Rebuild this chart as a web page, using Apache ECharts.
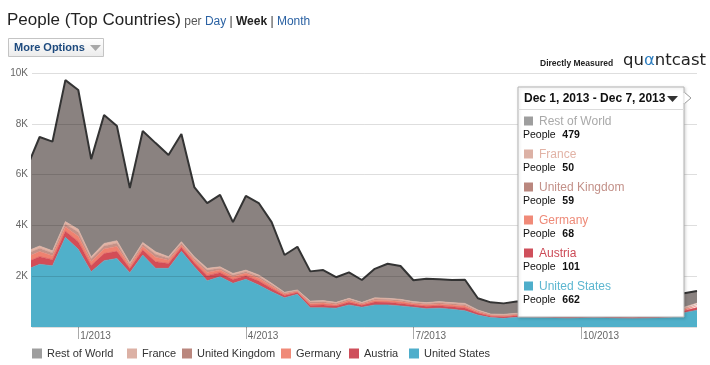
<!DOCTYPE html>
<html>
<head>
<meta charset="utf-8">
<script src="https://cdn.jsdelivr.net/npm/echarts@6/dist/echarts.min.js"></script>
<style>
html,body{margin:0;padding:0;background:#fff;}
#c{width:710px;height:365px;}
</style>
</head>
<body>
<div id="c"></div>
<script>
// ---- data (weekly, week 0 = week of Dec 2, 2012; last = week of Dec 1, 2013) ----
var seriesNames = ['Rest of World','France','United Kingdom','Germany','Austria','United States'];
var tickWeeks = [4, 17, 30, 43];
var tickLabels = ['1/2013','4/2013','7/2013','10/2013'];
var yTicks = [0, 2000, 4000, 6000, 8000, 10000];

var unitedStates = [2260,2470,2410,3530,3060,2180,2610,2700,2140,2830,
  2310,2310,2980,2370,1820,1980,1720,1880,1650,1390,
  1150,1290,760,760,740,870,780,870,870,830,
  780,720,740,700,640,470,370,340,380,
  370,360,350,340,350,360,350,340,330,340,350,370,
  560,662];
var austria = [290,300,240,240,300,240,280,280,160,200,
  260,190,150,160,200,160,150,140,160,130,
  90,70,100,110,90,100,75,110,100,100,
  85,95,100,100,110,80,55,60,60,
  60,60,58,56,60,62,60,58,56,60,62,66,
  80,101];
var germany = [200,200,160,170,210,160,180,190,105,135,
  175,125,100,110,130,105,105,95,110,90,
  60,45,70,75,60,70,50,75,70,70,
  60,65,70,70,75,55,38,42,42,
  42,40,40,38,40,42,40,38,38,40,42,45,
  55,68];
var unitedKingdom = [130,130,105,115,160,105,120,125,70,90,
  120,85,70,70,90,70,70,65,70,60,
  40,30,50,50,45,50,35,50,50,50,
  40,45,48,48,55,35,25,30,30,
  32,32,30,30,32,34,32,30,30,32,34,36,
  45,59];
var france = [100,90,85,95,120,85,100,105,55,75,
  95,60,60,60,70,55,65,60,60,50,
  30,25,40,45,35,40,30,45,40,40,
  35,35,42,42,50,30,22,28,28,
  28,27,26,26,28,28,27,26,26,28,30,32,
  40,50];
var restOfWorld = [3280,4290,4300,5570,5480,3840,5060,4510,2940,4390,
  4280,4000,4240,2740,2570,2830,2020,2920,2830,2410,
  1465,1700,1170,1200,990,1020,880,1140,1360,1310,
  840,940,880,890,930,460,460,430,460,
  470,480,460,450,470,490,470,450,440,460,480,500,
  550,479];

// week start dates (categories)
var DAY = 86400000, WEEK = 7 * DAY;
var firstWeek = Date.UTC(2012, 11, 2);
var weeks = unitedStates.map(function (_, i) { return firstWeek + i * WEEK; });
var lastIdx = unitedStates.length - 1;
var startOffset = 0.41; // visible window begins part-way into the first week

// ---- styles ----
var areaColors = {
  'Rest of World': '#8a8280', 'France': '#e3b3a4', 'United Kingdom': '#c49187',
  'Germany': '#ef8270', 'Austria': '#d34d57', 'United States': '#50b0ca'
};
var legendColors = {
  'Rest of World': '#9e9e9e', 'France': '#dcb1a5', 'United Kingdom': '#ba877e',
  'Germany': '#f08a78', 'Austria': '#cf4f5b', 'United States': '#4eaecb'
};
var tipNameColors = {
  'Rest of World': '#a9a9a9', 'France': '#e2b3a6', 'United Kingdom': '#c39189',
  'Germany': '#ee8a78', 'Austria': '#cc4a56', 'United States': '#5cb6d0'
};
var valuesByName = {
  'Rest of World': restOfWorld, 'France': france, 'United Kingdom': unitedKingdom,
  'Germany': germany, 'Austria': austria, 'United States': unitedStates
};
var FONT = 'Liberation Sans, Arial, sans-serif';

var stackOrder = ['United States','Austria','Germany','United Kingdom','France','Rest of World'];
var series = stackOrder.map(function (name) {
  var isTop = name === 'Rest of World';
  return {
    type: 'line', name: name, stack: 'total', symbol: 'none', showSymbol: false, smooth: false,
    xAxisIndex: 0,
    data: valuesByName[name].map(function (v, i) { return [weeks[i], v]; }),
    itemStyle: { color: areaColors[name] },
    lineStyle: isTop ? { color: '#333', width: 2 } : { width: 0.6, color: areaColors[name] },
    areaStyle: { color: areaColors[name], opacity: 1 },
    emphasis: { disabled: true },
    z: 2
  };
});

// legends (one per item, positioned like the reference)
var legendLeft = [32, 127, 182, 281, 349, 409];
var legends = seriesNames.map(function (name, k) {
  return {
    left: legendLeft[k], top: 348, padding: 0, itemWidth: 10, itemHeight: 10, itemGap: 0,
    icon: 'rect', selectedMode: false,
    data: [{ name: name, itemStyle: { color: legendColors[name] } }],
    textStyle: { fontFamily: FONT, fontSize: 11, color: '#333' }
  };
});

// tooltip box (graphic) — values from last week of each series
function fmtDate(t) {
  var m = ['Jan','Feb','Mar','Apr','May','Jun','Jul','Aug','Sep','Oct','Nov','Dec'];
  var d = new Date(t);
  return m[d.getUTCMonth()] + ' ' + d.getUTCDate() + ', ' + d.getUTCFullYear();
}
var header = fmtDate(weeks[lastIdx]) + ' - ' + fmtDate(weeks[lastIdx] + 6 * DAY);
var tipX = 518, tipY = 87, tipW = 166, tipH = 230, TZ = 100;
var tipChildren = [
  { type: 'rect', z: TZ, shape: { x: tipX, y: tipY, width: tipW, height: tipH },
    style: { fill: '#fff', stroke: '#b4b4b4', lineWidth: 1, shadowBlur: 3, shadowColor: 'rgba(0,0,0,0.15)', shadowOffsetX: 1, shadowOffsetY: 1 } },
  { type: 'polygon', z: TZ, shape: { points: [[tipX + tipW, 92], [tipX + tipW + 7, 98], [tipX + tipW, 104]] },
    style: { fill: '#fff', stroke: '#9a9a9a', lineWidth: 1 } },
  { type: 'line', z: TZ + 1, shape: { x1: tipX + tipW, y1: 92.5, x2: tipX + tipW, y2: 103.5 }, style: { stroke: '#fff', lineWidth: 1.5 } },
  { type: 'text', z: TZ + 1, x: 524, y: 99, style: { text: header, font: 'bold 12px ' + FONT, fill: '#111', verticalAlign: 'middle' } },
  { type: 'polygon', z: TZ + 1, shape: { points: [[667, 96], [678, 96], [672.5, 102]] }, style: { fill: '#333' } },
  { type: 'line', z: TZ + 1, shape: { x1: tipX, y1: 109.5, x2: tipX + tipW, y2: 109.5 }, style: { stroke: '#dcdcdc', lineWidth: 1 } }
];
seriesNames.forEach(function (name, k) {
  var y0 = 116.5 + 33 * k;
  tipChildren.push(
    { type: 'rect', z: TZ + 1, shape: { x: 524, y: y0, width: 9, height: 9 }, style: { fill: legendColors[name] } },
    { type: 'text', z: TZ + 1, x: 539, y: y0 + 5, style: { text: name, font: '12px ' + FONT, fill: tipNameColors[name], verticalAlign: 'middle' } },
    { type: 'text', z: TZ + 1, x: 523, y: y0 + 18.5, style: {
        text: '{p|People}  {v|' + valuesByName[name][lastIdx] + '}', verticalAlign: 'middle',
        rich: { p: { font: '10.5px ' + FONT, fill: '#111' }, v: { font: 'bold 10.5px ' + FONT, fill: '#111' } } } }
  );
});

var graphics = [
  // title line
  { type: 'text', x: 7, y: 20, style: {
      text: '{t|People (Top Countries)} {p|per} {l|Day}{s| | }{w|Week}{s| | }{l|Month}', verticalAlign: 'middle',
      rich: {
        t: { font: '17px ' + FONT, fill: '#222' },
        p: { font: '12px ' + FONT, fill: '#555', padding: [3, 0, 0, 0] },
        l: { font: '12px ' + FONT, fill: '#2b62a3', padding: [3, 0, 0, 0] },
        w: { font: 'bold 12px ' + FONT, fill: '#222', padding: [3, 0, 0, 0] },
        s: { font: '12px ' + FONT, fill: '#333', padding: [3, 0, 0, 0] }
      } } },
  // More Options button
  { type: 'rect', shape: { x: 8.5, y: 38.5, width: 95, height: 18 },
    style: { fill: { type: 'linear', x: 0, y: 0, x2: 0, y2: 1, colorStops: [{ offset: 0, color: '#ffffff' }, { offset: 1, color: '#ebebeb' }] },
             stroke: '#c4c4c4', lineWidth: 1 } },
  { type: 'text', x: 14, y: 48, style: { text: 'More Options', font: 'bold 11px ' + FONT, fill: '#1d4a7e', verticalAlign: 'middle' } },
  { type: 'polygon', shape: { points: [[90, 45], [101, 45], [95.5, 51]] }, style: { fill: '#a8a8a8' } },
  // quantcast mark
  { type: 'text', x: 540, y: 64, style: { text: 'Directly Measured', font: 'bold 8.5px ' + FONT, fill: '#222', verticalAlign: 'middle' } },
  { type: 'text', x: 623, y: 61, style: {
      text: '{q|qu}{a|\u03b1}{q|ntcast}', verticalAlign: 'middle',
      rich: { q: { font: '16.5px DejaVu Sans, sans-serif', fill: '#222' }, a: { font: '16.5px DejaVu Sans, sans-serif', fill: '#2f7fc0' } } } },
  { type: 'group', children: tipChildren }
];

var chart = echarts.init(document.getElementById('c'), null, { renderer: 'canvas' });
chart.setOption({
  animation: false,
  backgroundColor: '#fff',
  grid: { left: 32, right: 13, top: 73, bottom: 38, containLabel: false },
  xAxis: [{
    // time axis carrying the data
    type: 'time', min: weeks[0] + startOffset * WEEK, max: weeks[lastIdx],
    axisLine: { show: false }, splitLine: { show: false },
    axisTick: { show: false }, axisLabel: { show: false }
  }, {
    // same span in week units, used for the quarter tick labels
    type: 'value', position: 'bottom', min: startOffset, max: lastIdx,
    axisLine: { show: false }, splitLine: { show: false },
    axisTick: { show: true, customValues: tickWeeks, length: 12, lineStyle: { color: '#aaa', width: 1 } },
    axisLabel: {
      show: true, customValues: tickWeeks, align: 'left', verticalAlign: 'top', margin: 4,
      padding: [0, 0, 0, 2], fontFamily: FONT, fontSize: 10, color: '#666',
      formatter: function (v) { var k = tickWeeks.indexOf(Math.round(v)); return k >= 0 ? tickLabels[k] : ''; }
    }
  }],
  yAxis: {
    type: 'value', min: yTicks[0], max: yTicks[yTicks.length - 1], interval: 2000, z: 5,
    axisLine: { show: false }, axisTick: { show: false },
    axisLabel: { fontFamily: FONT, fontSize: 10, color: '#666', margin: 4,
      formatter: function (v) { return v === 0 ? '' : (v / 1000) + 'K'; } },
    splitLine: { show: true, lineStyle: { color: 'rgba(0,0,0,0.13)', width: 1 } }
  },
  legend: legends,
  series: series,
  graphic: graphics
});
</script>
</body>
</html>
